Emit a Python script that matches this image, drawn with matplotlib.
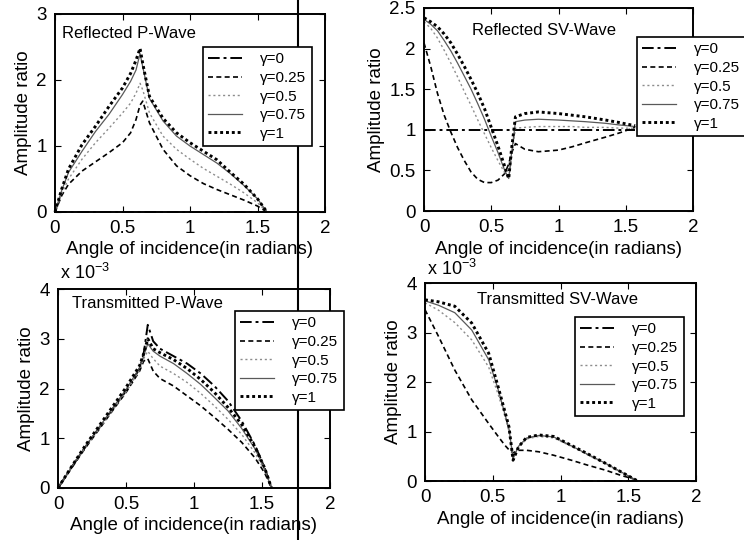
import matplotlib
matplotlib.use("Agg")
import matplotlib.pyplot as plt
from matplotlib.lines import Line2D

plt.rcParams['font.family'] = ['Liberation Sans', 'DejaVu Sans']
plt.rcParams['mathtext.fontset'] = 'custom'
plt.rcParams['mathtext.rm'] = 'Liberation Sans'

labels = ["γ=0", "γ=0.25", "γ=0.5", "γ=0.75", "γ=1"]

# Reflected P-wave
rp_angle = [0, 0.05, 0.1, 0.2, 0.3, 0.4, 0.5, 0.56, 0.6, 0.63, 0.65, 0.7, 0.8, 0.9, 1.0, 1.1, 1.2, 1.3, 1.4, 1.5, 1.57]
rp_g0 = [0] * 21
rp_g025 = [0, 0.25, 0.42, 0.62, 0.76, 0.9, 1.05, 1.2, 1.4, 1.62, 1.68, 1.35, 0.95, 0.7, 0.55, 0.43, 0.34, 0.26, 0.18, 0.09, 0]
rp_g05 = [0, 0.28, 0.5, 0.8, 1.05, 1.27, 1.5, 1.65, 1.8, 1.95, 1.85, 1.5, 1.15, 0.95, 0.8, 0.66, 0.54, 0.42, 0.29, 0.14, 0]
rp_g075 = [0, 0.33, 0.6, 0.92, 1.22, 1.48, 1.78, 1.98, 2.15, 2.4, 2.2, 1.72, 1.38, 1.15, 1.0, 0.87, 0.74, 0.58, 0.4, 0.2, 0]
rp_g1 = [0, 0.35, 0.65, 1.02, 1.3, 1.6, 1.88, 2.1, 2.3, 2.48, 2.25, 1.75, 1.42, 1.2, 1.05, 0.92, 0.79, 0.6, 0.42, 0.2, 0]

# Reflected SV-wave
rs_angle = [0, 0.05, 0.1, 0.15, 0.2, 0.25, 0.3, 0.35, 0.4, 0.45, 0.5, 0.55, 0.6, 0.63, 0.65, 0.68, 0.75, 0.85, 1.0, 1.1, 1.2, 1.35, 1.45, 1.57]
rs_g0 = [1.0] * 24
rs_g025 = [2.07, 1.78, 1.45, 1.18, 0.97, 0.78, 0.62, 0.48, 0.39, 0.35, 0.35, 0.38, 0.46, 0.58, 0.71, 0.83, 0.76, 0.73, 0.75, 0.79, 0.84, 0.91, 0.96, 1.03]
rs_g05 = [2.33, 2.25, 2.13, 1.98, 1.82, 1.65, 1.47, 1.3, 1.12, 0.95, 0.78, 0.62, 0.47, 0.4, 0.65, 1.02, 1.03, 1.04, 1.04, 1.04, 1.03, 1.03, 1.02, 1.02]
rs_g075 = [2.36, 2.3, 2.22, 2.1, 1.97, 1.82, 1.66, 1.5, 1.32, 1.13, 0.92, 0.72, 0.5, 0.4, 0.7, 1.1, 1.12, 1.13, 1.12, 1.11, 1.1, 1.08, 1.06, 1.04]
rs_g1 = [2.38, 2.33, 2.27, 2.18, 2.07, 1.93, 1.78, 1.62, 1.45, 1.26, 1.03, 0.8, 0.55, 0.4, 0.75, 1.16, 1.2, 1.22, 1.2, 1.18, 1.16, 1.12, 1.09, 1.05]

# Transmitted P-wave (x 10^-3)
tp_angle = [0, 0.1, 0.2, 0.3, 0.4, 0.5, 0.6, 0.63, 0.66, 0.7, 0.75, 0.85, 0.95, 1.05, 1.15, 1.25, 1.35, 1.45, 1.52, 1.57]
tp_g0 = [0, 0.42, 0.82, 1.2, 1.58, 1.95, 2.4, 2.7, 3.28, 2.95, 2.8, 2.65, 2.5, 2.3, 2.05, 1.75, 1.35, 0.85, 0.4, 0]
tp_g025 = [0, 0.4, 0.8, 1.17, 1.55, 1.92, 2.35, 2.55, 2.6, 2.35, 2.2, 2.05, 1.85, 1.65, 1.42, 1.18, 0.92, 0.6, 0.3, 0]
tp_g05 = [0, 0.41, 0.81, 1.18, 1.56, 1.93, 2.37, 2.6, 2.75, 2.6, 2.45, 2.3, 2.12, 1.9, 1.65, 1.38, 1.08, 0.7, 0.35, 0]
tp_g075 = [0, 0.42, 0.83, 1.21, 1.6, 1.98, 2.42, 2.65, 2.9, 2.75, 2.65, 2.5, 2.3, 2.08, 1.82, 1.55, 1.2, 0.78, 0.38, 0]
tp_g1 = [0, 0.43, 0.85, 1.24, 1.63, 2.02, 2.46, 2.7, 3.0, 2.8, 2.72, 2.58, 2.4, 2.18, 1.92, 1.62, 1.28, 0.82, 0.4, 0]

# Transmitted SV-wave (x 10^-3)
ts_angle = [0, 0.1, 0.22, 0.345, 0.47, 0.54, 0.59, 0.62, 0.65, 0.69, 0.75, 0.84, 0.95, 1.08, 1.2, 1.33, 1.45, 1.53, 1.57]
ts_g0 = [0] * 19
ts_g025 = [3.46, 2.92, 2.24, 1.64, 1.16, 0.9, 0.72, 0.63, 0.57, 0.62, 0.62, 0.59, 0.52, 0.42, 0.32, 0.22, 0.11, 0.05, 0]
ts_g05 = [3.6, 3.45, 3.2, 2.85, 2.3, 1.75, 1.3, 1.0, 0.48, 0.68, 0.85, 0.9, 0.87, 0.7, 0.53, 0.35, 0.17, 0.06, 0]
ts_g075 = [3.64, 3.55, 3.4, 3.05, 2.45, 1.85, 1.35, 1.05, 0.45, 0.7, 0.87, 0.92, 0.89, 0.71, 0.54, 0.36, 0.18, 0.06, 0]
ts_g1 = [3.66, 3.62, 3.53, 3.19, 2.58, 1.9, 1.4, 1.09, 0.42, 0.69, 0.88, 0.93, 0.9, 0.72, 0.55, 0.36, 0.18, 0.06, 0]

styles = [
    dict(color='black', ls=(0, (6, 2, 1.5, 2)), lw=1.4),
    dict(color='black', ls=(0, (3, 2)), lw=1.2),
    dict(color='0.55', ls=(0, (1.5, 2)), lw=1.0),
    dict(color='0.35', ls='-', lw=0.9),
    dict(color='black', ls=(0, (1, 1)), lw=2.1),
]

W, H = 744, 540
fig = plt.figure(figsize=(W / 100, H / 100), dpi=100)


def px_rect(x0, y0, x1, y1):
    return [x0 / W, 1 - y1 / H, (x1 - x0) / W, (y1 - y0) / H]


panels = [
    dict(rect=px_rect(55, 14, 325, 212), x=rp_angle, ys=[rp_g0, rp_g025, rp_g05, rp_g075, rp_g1],
         ylim=(0, 3), yticks=[0, 1, 2, 3], yfmt=['0', '1', '2', '3'], title="Reflected P-Wave",
         tpos=(62, 34), leg=(203, 47), mult=False),
    dict(rect=px_rect(424, 8, 693, 211), x=rs_angle, ys=[rs_g0, rs_g025, rs_g05, rs_g075, rs_g1],
         ylim=(0, 2.5), yticks=[0, 0.5, 1, 1.5, 2, 2.5], yfmt=['0', '0.5', '1', '1.5', '2', '2.5'],
         title="Reflected SV-Wave", tpos=(472, 31), leg=(637, 37), mult=False),
    dict(rect=px_rect(58, 289, 330, 488), x=tp_angle, ys=[tp_g0, tp_g025, tp_g05, tp_g075, tp_g1],
         ylim=(0, 4), yticks=[0, 1, 2, 3, 4], yfmt=['0', '1', '2', '3', '4'],
         title="Transmitted P-Wave", tpos=(72, 303), leg=(235, 311), mult=(60, 273)),
    dict(rect=px_rect(425, 283, 696, 481), x=ts_angle, ys=[ts_g0, ts_g025, ts_g05, ts_g075, ts_g1],
         ylim=(0, 4), yticks=[0, 1, 2, 3, 4], yfmt=['0', '1', '2', '3', '4'],
         title="Transmitted SV-Wave", tpos=(477, 300), leg=(575, 317), mult=(427, 269)),
]

for p in panels:
    ax = fig.add_axes(p['rect'])
    handles = []
    for y, st, lab in zip(p['ys'], styles, labels):
        h, = ax.plot(p['x'], y, label=lab, clip_on=False, **st)
        handles.append(h)
    ax.set_xlim(0, 2)
    ax.set_ylim(*p['ylim'])
    ax.set_xticks([0, 0.5, 1, 1.5, 2])
    ax.set_xticklabels(['0', '0.5', '1', '1.5', '2'])
    ax.set_yticks(p['yticks'])
    ax.set_yticklabels(p['yfmt'])
    ax.tick_params(direction='in', top=True, right=True, labelsize=13.5, length=4, width=0.8, pad=6)
    for s in ax.spines.values():
        s.set_linewidth(1.4)
    ax.set_xlabel("Angle of incidence(in radians)", fontsize=13.5, labelpad=3)
    ax.set_ylabel("Amplitude ratio", fontsize=13.5, labelpad=3)
    fig.text(p['tpos'][0] / W, 1 - p['tpos'][1] / H, p['title'], fontsize=12, va='center', ha='left')
    leg = fig.legend(handles=handles, loc='upper left',
                     bbox_to_anchor=(p['leg'][0] / W, 1 - p['leg'][1] / H),
                     borderaxespad=0,
                     fontsize=11, frameon=True, fancybox=False, framealpha=1,
                     edgecolor='black', handlelength=2.2, handletextpad=1.2,
                     labelspacing=0.3, borderpad=0.35)
    leg.get_frame().set_linewidth(1.2)
    if p['mult']:
        fig.text(p['mult'][0] / W, 1 - p['mult'][1] / H, "x 10$^{-3}$", fontsize=13, va='center', ha='left')

# vertical scan line visible in the reference
fig.add_artist(Line2D([298 / W, 298 / W], [0, 1], color='black', lw=1.5, transform=fig.transFigure))

fig.savefig("out.png", dpi=100)
